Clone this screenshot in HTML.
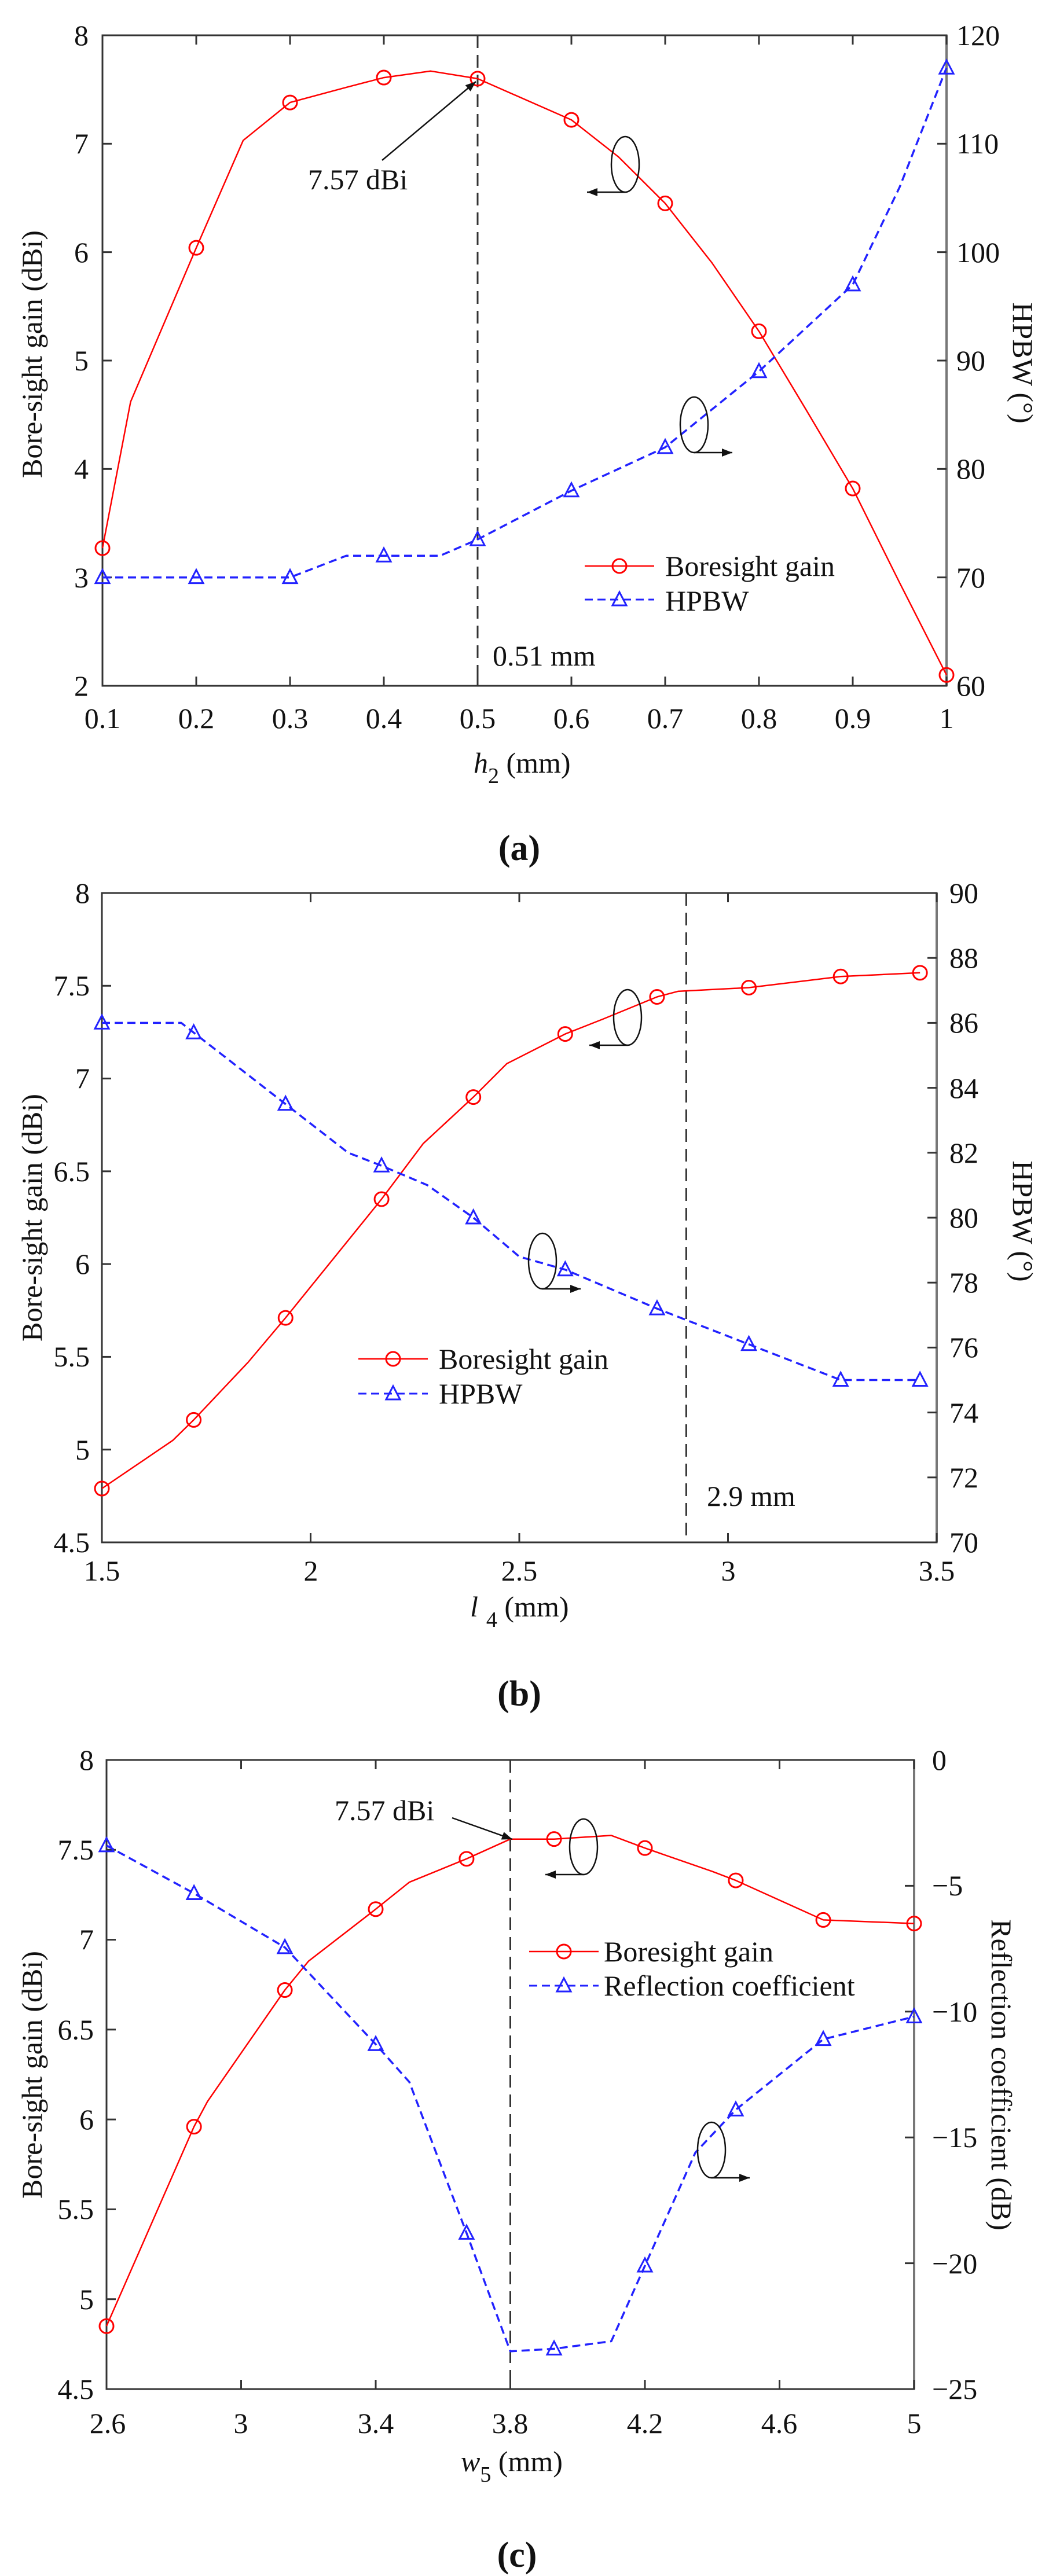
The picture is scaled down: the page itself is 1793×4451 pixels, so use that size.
<!DOCTYPE html>
<html><head><meta charset="utf-8">
<style>
html,body{margin:0;padding:0;background:#fff;}
svg{display:block;}
text{font-family:"Liberation Serif","DejaVu Serif",serif;fill:#111;}
.t{font-size:50px;}
.al{font-size:50px;}
.cap{font-size:62px;font-weight:bold;}
</style></head>
<body>
<svg id="s" width="1793" height="4451" viewBox="0 0 1793 4451" xmlns="http://www.w3.org/2000/svg">
<rect width="1793" height="4451" fill="#fff"/>
<g id="geo"></g>
<!-- Chart A text -->
<g class="t" text-anchor="end" dominant-baseline="central">
<text x="153" y="1185">2</text><text x="153" y="998">3</text><text x="153" y="810">4</text><text x="153" y="623">5</text><text x="153" y="436">6</text><text x="153" y="248">7</text><text x="153" y="61">8</text>
</g>
<g class="t" text-anchor="start" dominant-baseline="central">
<text x="1652" y="1185">60</text><text x="1652" y="998">70</text><text x="1652" y="810">80</text><text x="1652" y="623">90</text><text x="1652" y="436">100</text><text x="1652" y="248">110</text><text x="1652" y="61">120</text>
</g>
<g class="t" text-anchor="middle" dominant-baseline="central">
<text x="177" y="1241">0.1</text><text x="339" y="1241">0.2</text><text x="501" y="1241">0.3</text><text x="663" y="1241">0.4</text><text x="825" y="1241">0.5</text><text x="987" y="1241">0.6</text><text x="1149" y="1241">0.7</text><text x="1311" y="1241">0.8</text><text x="1473" y="1241">0.9</text><text x="1635" y="1241">1</text>
</g>
<text class="al" x="818" y="1335"><tspan font-style="italic">h</tspan><tspan font-size="38" dy="18">2</tspan><tspan dy="-18"> (mm)</tspan></text>
<text class="al" text-anchor="middle" transform="translate(72,612) rotate(-90)">Bore-sight gain (dBi)</text>
<text class="al" text-anchor="middle" transform="translate(1750,627) rotate(90)">HPBW (°)</text>
<text class="t" x="532" y="327">7.57 dBi</text>
<text class="t" x="851" y="1150">0.51 mm</text>
<text class="t" x="1149" y="995">Boresight gain</text>
<text class="t" x="1149" y="1055">HPBW</text>
<text class="cap" x="897" y="1486" text-anchor="middle">(a)</text>

<!-- Chart B text -->
<g class="t" text-anchor="end" dominant-baseline="central">
<text x="155" y="2665">4.5</text><text x="155" y="2505">5</text><text x="155" y="2344">5.5</text><text x="155" y="2184">6</text><text x="155" y="2024">6.5</text><text x="155" y="1863">7</text><text x="155" y="1703">7.5</text><text x="155" y="1543">8</text>
</g>
<g class="t" text-anchor="start" dominant-baseline="central">
<text x="1640" y="2665">70</text><text x="1640" y="2553">72</text><text x="1640" y="2441">74</text><text x="1640" y="2328">76</text><text x="1640" y="2216">78</text><text x="1640" y="2104">80</text><text x="1640" y="1992">82</text><text x="1640" y="1880">84</text><text x="1640" y="1767">86</text><text x="1640" y="1655">88</text><text x="1640" y="1543">90</text>
</g>
<g class="t" text-anchor="middle" dominant-baseline="central">
<text x="176" y="2714">1.5</text><text x="537" y="2714">2</text><text x="897" y="2714">2.5</text><text x="1258" y="2714">3</text><text x="1618" y="2714">3.5</text>
</g>
<text class="al" x="812" y="2793"><tspan font-style="italic">l</tspan><tspan font-size="38" dx="14" dy="18">4</tspan><tspan dy="-18"> (mm)</tspan></text>
<text class="al" text-anchor="middle" transform="translate(72,2104) rotate(-90)">Bore-sight gain (dBi)</text>
<text class="al" text-anchor="middle" transform="translate(1750,2110) rotate(90)">HPBW (°)</text>
<text class="t" x="1221" y="2602">2.9 mm</text>
<text class="t" x="758" y="2365">Boresight gain</text>
<text class="t" x="758" y="2425">HPBW</text>
<text class="cap" x="897" y="2947" text-anchor="middle">(b)</text>

<!-- Chart C text -->
<g class="t" text-anchor="end" dominant-baseline="central">
<text x="162" y="4128">4.5</text><text x="162" y="3973">5</text><text x="162" y="3817">5.5</text><text x="162" y="3662">6</text><text x="162" y="3507">6.5</text><text x="162" y="3351">7</text><text x="162" y="3196">7.5</text><text x="162" y="3041">8</text>
</g>
<g class="t" text-anchor="start" dominant-baseline="central">
<text x="1610" y="3041">0</text><text x="1610" y="3258">−5</text><text x="1610" y="3476">−10</text><text x="1610" y="3693">−15</text><text x="1610" y="3911">−20</text><text x="1610" y="4128">−25</text>
</g>
<g class="t" text-anchor="middle" dominant-baseline="central">
<text x="186" y="4187">2.6</text><text x="416" y="4187">3</text><text x="649" y="4187">3.4</text><text x="881" y="4187">3.8</text><text x="1114" y="4187">4.2</text><text x="1346" y="4187">4.6</text><text x="1579" y="4187">5</text>
</g>
<text class="al" x="796" y="4270"><tspan font-style="italic">w</tspan><tspan font-size="38" dy="18">5</tspan><tspan dy="-18"> (mm)</tspan></text>
<text class="al" text-anchor="middle" transform="translate(72,3585) rotate(-90)">Bore-sight gain (dBi)</text>
<text class="al" text-anchor="middle" transform="translate(1713,3585) rotate(90)">Reflection coefficient (dB)</text>
<text class="t" x="578" y="3145">7.57 dBi</text>
<text class="t" x="1043" y="3389">Boresight gain</text>
<text class="t" x="1043" y="3448">Reflection coefficient</text>
<text class="cap" x="893" y="4435" text-anchor="middle">(c)</text>
</svg>
<script>
(function(){
var NS="http://www.w3.org/2000/svg",G=document.getElementById("geo");
function el(n,a){var e=document.createElementNS(NS,n);for(var k in a)e.setAttribute(k,a[k]);G.appendChild(e);return e;}
function mk(c){return {X:function(v){return c.px0+(v-c.x0)/(c.x1-c.x0)*(c.px1-c.px0);},
 YL:function(v){return c.pb+(v-c.yl0)/(c.yl1-c.yl0)*(c.pt-c.pb);},
 YR:function(v){return c.pb+(v-c.yr0)/(c.yr1-c.yr0)*(c.pt-c.pb);},c:c};}
function axes(m,xt,ylt,yrt){var c=m.c;
 el("rect",{x:c.px0,y:c.pt,width:c.px1-c.px0,height:c.pb-c.pt,fill:"none",stroke:"#333","stroke-width":3});
 el("line",{x1:c.px1,y1:c.pt,x2:c.px1,y2:c.pb,stroke:"#777","stroke-width":4});
 var L=16;
 xt.forEach(function(v){var x=m.X(v);el("line",{x1:x,y1:c.pb,x2:x,y2:c.pb-L,stroke:"#333","stroke-width":3});el("line",{x1:x,y1:c.pt,x2:x,y2:c.pt+L,stroke:"#333","stroke-width":3});});
 ylt.forEach(function(v){var y=m.YL(v);el("line",{x1:c.px0,y1:y,x2:c.px0+L,y2:y,stroke:"#333","stroke-width":3});});
 yrt.forEach(function(v){var y=m.YR(v);el("line",{x1:c.px1,y1:y,x2:c.px1-L,y2:y,stroke:"#333","stroke-width":3});});}
function line(m,pts,right,col,dash,w){var s=pts.map(function(p){return m.X(p[0]).toFixed(1)+","+(right?m.YR(p[1]):m.YL(p[1])).toFixed(1);}).join(" ");
 var a={points:s,fill:"none",stroke:col,"stroke-width":w,"stroke-linejoin":"round"};if(dash)a["stroke-dasharray"]=dash;el("polyline",a);}
function circ(x,y){el("circle",{cx:x,cy:y,r:12,fill:"none",stroke:"#f00","stroke-width":3});}
function tri(x,y){el("polygon",{points:(x-12)+","+(y+10)+" "+(x+12)+","+(y+10)+" "+x+","+(y-13),fill:"none",stroke:"#22f","stroke-width":3});}
function marks(m,pts,right,f){pts.forEach(function(p){f(m.X(p[0]),right?m.YR(p[1]):m.YL(p[1]));});}
function vdash(m,v){var x=m.X(v);el("line",{x1:x,y1:m.c.pt,x2:x,y2:m.c.pb,stroke:"#333","stroke-width":3,"stroke-dasharray":"22,12"});}
function arrow(x1,y1,x2,y2){el("line",{x1:x1,y1:y1,x2:x2,y2:y2,stroke:"#111","stroke-width":2.5});
 var a=Math.atan2(y2-y1,x2-x1),l=18,w=7;
 el("polygon",{points:x2+","+y2+" "+(x2-l*Math.cos(a)+w*Math.sin(a))+","+(y2-l*Math.sin(a)-w*Math.cos(a))+" "+(x2-l*Math.cos(a)-w*Math.sin(a))+","+(y2-l*Math.sin(a)+w*Math.cos(a)),fill:"#111"});}
function ell(cx,cy,dir){el("ellipse",{cx:cx,cy:cy,rx:24,ry:48,fill:"none",stroke:"#111","stroke-width":2.5});arrow(cx,cy+48,cx+dir*66,cy+48);}
function legend(x,y1,y2){el("line",{x1:x,y1:y1,x2:x+120,y2:y1,stroke:"#f00","stroke-width":2.5});circ(x+60,y1);
 el("line",{x1:x,y1:y2,x2:x+120,y2:y2,stroke:"#22f","stroke-width":3,"stroke-dasharray":"14,8"});tri(x+60,y2);}

// A
var A=mk({x0:0.1,x1:1,px0:177,px1:1635,yl0:2,yl1:8,yr0:60,yr1:120,pt:61,pb:1185});
axes(A,[.1,.2,.3,.4,.5,.6,.7,.8,.9,1],[2,3,4,5,6,7,8],[60,70,80,90,100,110,120]);
vdash(A,0.5);
var aR=[[.1,3.27],[.13,4.62],[.2,6.04],[.25,7.03],[.3,7.38],[.36,7.52],[.4,7.61],[.45,7.67],[.5,7.6],[.6,7.22],[.65,6.88],[.7,6.45],[.75,5.9],[.8,5.27],[.85,4.55],[.9,3.82],[.95,2.95],[1,2.1]];
var aB=[[.1,70],[.2,70],[.3,70],[.36,72],[.4,72],[.46,72],[.5,73.5],[.6,78],[.7,82],[.8,89],[.85,93],[.9,97],[.95,106],[1,117]];
line(A,aR,false,"#f00",null,2.5);line(A,aB,true,"#22f","14,8",3.5);
marks(A,aR.filter(function(p){return Math.abs(p[0]*10-Math.round(p[0]*10))<1e-6;}),false,circ);
marks(A,aB.filter(function(p){return Math.abs(p[0]*10-Math.round(p[0]*10))<1e-6;}),true,tri);
arrow(660,277,822,141);ell(1080,284,-1);ell(1199,734,1);legend(1010,978,1036);

// B
var B=mk({x0:1.5,x1:3.5,px0:176,px1:1618,yl0:4.5,yl1:8,yr0:70,yr1:90,pt:1543,pb:2665});
axes(B,[1.5,2,2.5,3,3.5],[4.5,5,5.5,6,6.5,7,7.5,8],[70,72,74,76,78,80,82,84,86,88,90]);
vdash(B,2.9);
var bRm=[[1.5,4.79],[1.72,5.16],[1.94,5.71],[2.17,6.35],[2.39,6.9],[2.61,7.24],[2.83,7.44],[3.05,7.49],[3.27,7.55],[3.46,7.57]];
var bR=[[1.5,4.79],[1.67,5.05],[1.72,5.16],[1.85,5.47],[1.94,5.71],[2.17,6.35],[2.27,6.65],[2.39,6.9],[2.47,7.08],[2.61,7.24],[2.7,7.32],[2.83,7.44],[2.88,7.47],[3.05,7.49],[3.27,7.55],[3.46,7.57]];
var bBm=[[1.5,86],[1.72,85.7],[1.94,83.5],[2.17,81.6],[2.39,80],[2.61,78.4],[2.83,77.2],[3.05,76.1],[3.27,75],[3.46,75]];
var bB=[[1.5,86],[1.69,86],[1.72,85.7],[1.94,83.5],[2.09,82],[2.17,81.6],[2.28,81],[2.39,80],[2.5,78.8],[2.61,78.4],[2.83,77.2],[3.05,76.1],[3.27,75],[3.46,75]];
line(B,bR,false,"#f00",null,2.5);line(B,bB,true,"#22f","14,8",3.5);
marks(B,bRm,false,circ);marks(B,bBm,true,tri);
ell(1084,1758,-1);ell(937,2179,1);legend(619,2348,2408);

// C
var C=mk({x0:2.6,x1:5,px0:184,px1:1579,yl0:4.5,yl1:8,yr0:-25,yr1:0,pt:3041,pb:4128});
axes(C,[2.6,3,3.4,3.8,4.2,4.6,5],[4.5,5,5.5,6,6.5,7,7.5,8],[-25,-20,-15,-10,-5,0]);
vdash(C,3.8);
var cRm=[[2.6,4.85],[2.86,5.96],[3.13,6.72],[3.4,7.17],[3.67,7.45],[3.93,7.56],[4.2,7.51],[4.47,7.33],[4.73,7.11],[5,7.09]];
var cR=[[2.6,4.85],[2.86,5.96],[2.9,6.1],[3.13,6.72],[3.2,6.88],[3.4,7.17],[3.5,7.32],[3.67,7.45],[3.8,7.56],[3.93,7.56],[4.1,7.58],[4.2,7.51],[4.4,7.38],[4.47,7.33],[4.73,7.11],[5,7.09]];
var cBm=[[2.6,-3.4],[2.86,-5.3],[3.13,-7.45],[3.4,-11.3],[3.67,-18.8],[3.93,-23.4],[4.2,-20.1],[4.47,-13.9],[4.73,-11.1],[5,-10.2]];
var cB=[[2.6,-3.4],[2.86,-5.3],[3.13,-7.45],[3.4,-11.3],[3.5,-12.8],[3.67,-18.8],[3.8,-23.5],[3.93,-23.4],[4.1,-23.1],[4.2,-20.1],[4.35,-15.6],[4.47,-13.9],[4.73,-11.1],[5,-10.2]];
line(C,cR,false,"#f00",null,2.5);line(C,cB,true,"#22f","14,8",3.5);
marks(C,cRm,false,circ);marks(C,cBm,true,tri);
arrow(781,3141,885,3178);ell(1008,3191,-1);ell(1229,3715,1);legend(914,3372,3431);
})();
</script>
</body></html>
